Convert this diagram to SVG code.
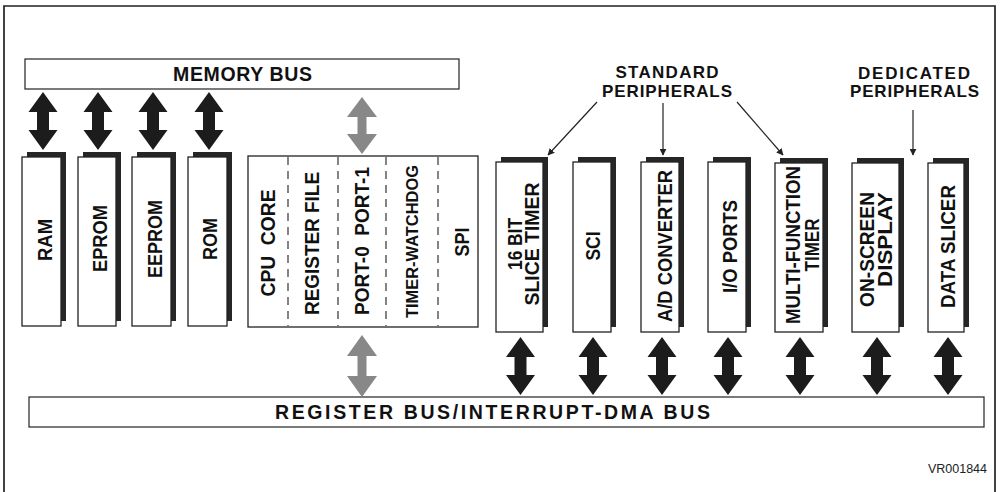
<svg xmlns="http://www.w3.org/2000/svg" width="1002" height="492" viewBox="0 0 1002 492">
  <style>
    .frame { fill: none; stroke: #222; stroke-width: 1.7; }
    .bus { fill: #fff; stroke: #333; stroke-width: 1.3; }
    .box { fill: #fff; stroke: #222; stroke-width: 1.3; }
    .shadow { fill: #262626; }
    .lbl { font-family: "Liberation Sans", Arial, Helvetica, sans-serif; font-weight: bold; fill: #111; }
    .v { font-size: 20px; text-anchor: middle; }
    .small { font-size: 16.5px; }
    .cap { font-size: 17px; text-anchor: middle; }
    .divider { stroke: #333; stroke-width: 1.2; stroke-dasharray: 8 6; }
    .arrow { fill: #1c1c1c; }
    .garrow { fill: #888; }
    .pointer { stroke: #222; stroke-width: 1.2; fill: none; marker-end: url(#tip); }
    .code { font-family: "Liberation Sans", Arial, sans-serif; font-size: 12.5px; fill: #222; text-anchor: end; }
  </style>
  <defs>
    <marker id="tip" viewBox="0 0 10 10" refX="9" refY="5" markerWidth="7" markerHeight="7" markerUnits="userSpaceOnUse" orient="auto">
      <path d="M0,0 L10,5 L0,10 Z" fill="#222"/>
    </marker>
    <!-- bold two-way bus arrow, 58 px long, drawn downward from its top tip -->
    <path id="dbl" d="M0,0 L14.5,20 L6,20 L6,38 L14.5,38 L0,58 L-14.5,38 L-6,38 L-6,20 L-14.5,20 Z"/>
  </defs>

  <rect width="1002" height="492" fill="#fff"/>
  <path class="frame" d="M4,492 L4,6 L995,6 L995,492"/>

  <!-- buses -->
  <g id="memory-bus">
    <rect class="bus" x="25" y="59" width="434" height="30"/>
    <text class="lbl" x="242.5" y="81" font-size="19.5" text-anchor="middle" textLength="139">MEMORY BUS</text>
  </g>
  <g id="register-bus">
    <rect class="bus" x="29" y="397" width="955" height="30"/>
    <text class="lbl" x="492.5" y="418.5" font-size="19.5" text-anchor="middle" textLength="435">REGISTER BUS/INTERRUPT-DMA BUS</text>
  </g>

  <!-- memories -->
  <g id="ram">
    <rect class="shadow" x="27" y="152" width="39" height="169"/>
    <rect class="box" x="22" y="157" width="39" height="169"/>
    <text class="lbl v" transform="translate(45,240) rotate(-90)" y="7.2" textLength="42" lengthAdjust="spacingAndGlyphs">RAM</text>
  </g>
  <g id="eprom">
    <rect class="shadow" x="83" y="152" width="38" height="169"/>
    <rect class="box" x="78" y="157" width="38" height="169"/>
    <text class="lbl v" transform="translate(100,238.5) rotate(-90)" y="7.2" textLength="67" lengthAdjust="spacingAndGlyphs">EPROM</text>
  </g>
  <g id="eeprom">
    <rect class="shadow" x="137" y="152" width="39" height="169"/>
    <rect class="box" x="132" y="157" width="39" height="169"/>
    <text class="lbl v" transform="translate(155,239) rotate(-90)" y="7.2" textLength="78" lengthAdjust="spacingAndGlyphs">EEPROM</text>
  </g>
  <g id="rom">
    <rect class="shadow" x="193" y="152" width="39" height="169"/>
    <rect class="box" x="188" y="157" width="39" height="169"/>
    <text class="lbl v" transform="translate(210,239) rotate(-90)" y="7.2" textLength="42" lengthAdjust="spacingAndGlyphs">ROM</text>
  </g>

  <!-- processor core block -->
  <g id="core">
    <rect class="box" x="248" y="156" width="230" height="171"/>
    <line class="divider" x1="288" y1="157" x2="288" y2="326"/>
    <line class="divider" x1="338" y1="157" x2="338" y2="326"/>
    <line class="divider" x1="386" y1="157" x2="386" y2="326"/>
    <line class="divider" x1="438" y1="157" x2="438" y2="326"/>
    <text class="lbl v" transform="translate(268,243) rotate(-90)" y="7.2" textLength="107" lengthAdjust="spacingAndGlyphs">CPU&#160; CORE</text>
    <text class="lbl v" transform="translate(312,243.5) rotate(-90)" y="7.2" textLength="143" lengthAdjust="spacingAndGlyphs">REGISTER FILE</text>
    <text class="lbl v" transform="translate(362,241) rotate(-90)" y="7.2" textLength="148" lengthAdjust="spacingAndGlyphs">PORT-0&#160; PORT-1</text>
    <text class="lbl v small" transform="translate(412,241.5) rotate(-90)" y="5.9" textLength="153" lengthAdjust="spacingAndGlyphs">TIMER-WATCHDOG</text>
    <text class="lbl v" transform="translate(462,242) rotate(-90)" y="7.2" textLength="29" lengthAdjust="spacingAndGlyphs">SPI</text>
  </g>

  <!-- peripherals -->
  <g id="slice-timer">
    <rect class="shadow" x="501" y="157" width="47" height="170"/>
    <rect class="box" x="496" y="162" width="47" height="170"/>
    <text class="lbl v" transform="translate(523.5,244) rotate(-90)"><tspan x="0" y="-1.3" textLength="52" lengthAdjust="spacingAndGlyphs">16 BIT</tspan><tspan x="0" y="15.7" textLength="123" lengthAdjust="spacingAndGlyphs">SLICE TIMER</tspan></text>
  </g>
  <g id="sci">
    <rect class="shadow" x="578" y="157" width="38" height="170"/>
    <rect class="box" x="573" y="162" width="38" height="170"/>
    <text class="lbl v" transform="translate(593,246) rotate(-90)" y="7.2" textLength="29" lengthAdjust="spacingAndGlyphs">SCI</text>
  </g>
  <g id="adc">
    <rect class="shadow" x="646" y="157" width="38" height="170"/>
    <rect class="box" x="641" y="162" width="38" height="170"/>
    <text class="lbl v" transform="translate(664.5,246) rotate(-90)" y="7.2" textLength="152" lengthAdjust="spacingAndGlyphs">A/D CONVERTER</text>
  </g>
  <g id="io-ports">
    <rect class="shadow" x="713" y="157" width="38" height="170"/>
    <rect class="box" x="708" y="162" width="38" height="170"/>
    <text class="lbl v" transform="translate(730,246.5) rotate(-90)" y="7.2" textLength="93" lengthAdjust="spacingAndGlyphs">I/O PORTS</text>
  </g>
  <g id="mf-timer">
    <rect class="shadow" x="780" y="158" width="48" height="169"/>
    <rect class="box" x="775" y="163" width="48" height="169"/>
    <text class="lbl v" transform="translate(802.5,245) rotate(-90)"><tspan x="0" y="-2.3" textLength="158" lengthAdjust="spacingAndGlyphs">MULTI-FUNCTION</tspan><tspan x="0" y="16.7" textLength="53" lengthAdjust="spacingAndGlyphs">TIMER</tspan></text>
  </g>
  <g id="osd">
    <rect class="shadow" x="857" y="158" width="47" height="169"/>
    <rect class="box" x="852" y="163" width="47" height="169"/>
    <text class="lbl" font-size="20" text-anchor="end" transform="translate(876,192) rotate(-90)"><tspan x="0" y="-1.8" textLength="115" lengthAdjust="spacingAndGlyphs">ON-SCREEN</tspan><tspan x="0" y="16.2" textLength="95" lengthAdjust="spacingAndGlyphs">DISPLAY</tspan></text>
  </g>
  <g id="data-slicer">
    <rect class="shadow" x="933" y="158" width="36" height="169"/>
    <rect class="box" x="928" y="163" width="36" height="169"/>
    <text class="lbl v" transform="translate(948,246.5) rotate(-90)" y="7.2" textLength="123" lengthAdjust="spacingAndGlyphs">DATA SLICER</text>
  </g>

  <!-- group captions -->
  <g id="standard-label">
    <text class="lbl cap" x="667" y="78" textLength="103">STANDARD</text>
    <text class="lbl cap" x="667" y="97" textLength="130">PERIPHERALS</text>
  </g>
  <g id="dedicated-label">
    <text class="lbl cap" x="914" y="78.5" textLength="112">DEDICATED</text>
    <text class="lbl cap" x="914.5" y="97" textLength="129">PERIPHERALS</text>
  </g>

  <!-- connectors -->
  <g id="connectors">
    <use href="#dbl" class="arrow" x="43" y="92"/>
    <use href="#dbl" class="arrow" x="98" y="92"/>
    <use href="#dbl" class="arrow" x="153" y="92"/>
    <use href="#dbl" class="arrow" x="209" y="92"/>
    <path class="garrow" transform="translate(362,97)" d="M0,0 L15,20 L4.5,20 L4.5,37 L15,37 L0,57 L-15,37 L-4.5,37 L-4.5,20 L-15,20 Z"/>
    <path class="garrow" transform="translate(362,335)" d="M0,0 L15,21 L4.5,21 L4.5,41 L15,41 L0,62 L-15,41 L-4.5,41 L-4.5,21 L-15,21 Z"/>
    <use href="#dbl" class="arrow" x="520.5" y="337"/>
    <use href="#dbl" class="arrow" x="593" y="337"/>
    <use href="#dbl" class="arrow" x="662" y="337"/>
    <use href="#dbl" class="arrow" x="728" y="337"/>
    <use href="#dbl" class="arrow" x="800" y="337"/>
    <use href="#dbl" class="arrow" x="877" y="337"/>
    <use href="#dbl" class="arrow" x="948" y="337"/>
    <line class="pointer" x1="597" y1="102" x2="548" y2="155"/>
    <line class="pointer" x1="663" y1="103" x2="663" y2="155"/>
    <line class="pointer" x1="737" y1="102" x2="783" y2="155"/>
    <line class="pointer" x1="913" y1="110" x2="913" y2="155"/>
  </g>

  <text class="code" x="987" y="473">VR001844</text>
</svg>
